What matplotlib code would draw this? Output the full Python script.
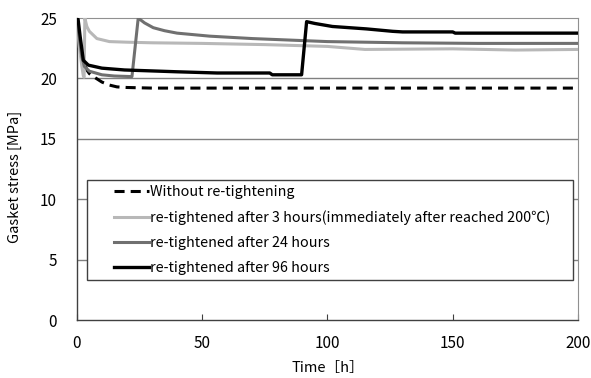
import matplotlib
matplotlib.use("Agg")
import matplotlib.pyplot as plt
from matplotlib.legend_handler import HandlerLine2D

plt.rcParams['font.family'] = ['Noto Sans CJK JP', 'DejaVu Sans']

# without re-tightening
t_none = [0, 1, 2, 3, 4, 5, 7, 10, 13, 16, 20, 30, 50, 100, 200]
s_none = [25, 23.2, 22.0, 21.2, 20.7, 20.4, 20.1, 19.7, 19.45, 19.3, 19.25, 19.2, 19.2, 19.2, 19.2]

# re-tightened after 3 hours
t_3h = [0, 0.5, 1, 2, 2.6, 2.9, 3.2, 4, 5, 8, 13, 20, 30, 50, 75, 100, 115, 150, 175, 200]
s_3h = [25, 23.8, 22.6, 21.0, 20.2, 20.1, 25, 24.3, 23.9, 23.3, 23.05, 23.0, 22.95, 22.9, 22.8,
        22.65, 22.4, 22.45, 22.35, 22.4]

# re-tightened after 24 hours
t_24h = [0, 1, 2, 3, 5, 10, 15, 22, 24.5, 27, 30.5, 35, 40, 53, 70, 100, 130, 160, 200]
s_24h = [25, 23.3, 21.8, 21.0, 20.6, 20.3, 20.2, 20.15, 25, 24.6, 24.2, 23.95, 23.75, 23.5,
         23.3, 23.05, 22.95, 22.9, 22.9]

# re-tightened after 96 hours
t_96h = [0, 0.5, 1.3, 2.6, 4.6, 10, 19, 40, 56, 77, 78, 89.7, 91.7, 95, 102, 115.6, 126,
         130, 150, 151, 200]
s_96h = [25, 24.9, 23.5, 21.5, 21.1, 20.85, 20.7, 20.55, 20.45, 20.45, 20.3, 20.3, 24.7,
         24.55, 24.3, 24.1, 23.9, 23.85, 23.85, 23.75, 23.75]

labels = ['Without re-tightening',
          're-tightened after 3 hours(immediately after reached 200℃)',
          're-tightened after 24 hours',
          're-tightened after 96 hours']


class ShiftedLine(HandlerLine2D):
    # legend sample drawn only in the right part of the handle box
    frac = 0.62

    def create_artists(self, legend, orig_handle, xdescent, ydescent,
                       width, height, fontsize, trans):
        arts = super().create_artists(legend, orig_handle, xdescent, ydescent,
                                      width, height, fontsize, trans)
        x0 = -xdescent
        for a in arts:
            xd = a.get_xdata()
            a.set_xdata([x0 + (1 - self.frac) * width + (x - x0) * self.frac for x in xd])
        return arts


fig = plt.figure(figsize=(5.91, 3.78), dpi=100)
ax = fig.add_axes([0.130, 0.1534, 0.848, 0.7989])

ax.plot(t_none, s_none, color='black', lw=2.2, dashes=(3.3, 2.0), label=labels[0], zorder=3)
ax.plot(t_3h, s_3h, color='#b8b8b8', lw=2.2, label=labels[1], zorder=4)
ax.plot(t_24h, s_24h, color='#707070', lw=2.2, label=labels[2], zorder=5)
ax.plot(t_96h, s_96h, color='black', lw=2.4, label=labels[3], zorder=6)

ax.set_xlim(0, 200)
ax.set_ylim(0, 25)
ax.set_xticks([0, 50, 100, 150, 200])
ax.set_yticks([0, 5, 10, 15, 20, 25])
for y in [5, 10, 15, 20]:
    ax.axhline(y, color='#808080', lw=1.0, zorder=1)

for side in ['top', 'right']:
    ax.spines[side].set_color('#909090')
for side in ['left', 'bottom']:
    ax.spines[side].set_color('#404040')
    ax.spines[side].set_linewidth(1.0)

ax.tick_params(axis='x', direction='in', length=4, color='#404040', labelsize=11, pad=11)
ax.tick_params(axis='y', length=0, labelsize=11, pad=14.4)

ax.set_xlabel('Time［h］', fontsize=10.5, labelpad=6)
ax.set_ylabel('Gasket stress [MPa]', fontsize=10.5)
ax.yaxis.set_label_coords(-0.11, 0.475)

leg = ax.legend(loc='upper left', bbox_to_anchor=(0.02, 0.139, 0.970, 0.3246),
                mode='expand', fontsize=10.3,
                handlelength=4.0, handletextpad=0.05, labelspacing=0.78,
                borderaxespad=0, fancybox=False, framealpha=1,
                edgecolor='#404040', borderpad=0.35,
                handler_map={matplotlib.lines.Line2D: ShiftedLine()})
leg.get_frame().set_linewidth(1.0)

fig.savefig('out.png', dpi=100)
